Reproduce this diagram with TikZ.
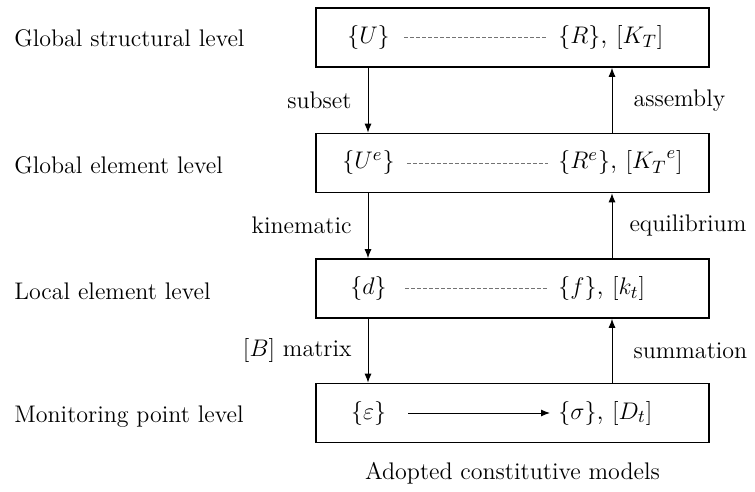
\documentclass[tikz,border=0pt]{standalone}
\usetikzlibrary{arrows.meta,positioning}

\tikzset{
  levelbox/.style={draw,line width=0.8pt,minimum width=196.5pt,minimum height=29.5pt,inner sep=0pt},
  levelname/.style={anchor=west,inner sep=0pt},
  qty/.style={inner sep=0pt,font=\fontsize{13}{15}\selectfont},
  link/.style={draw=black!55,dashed,dash pattern=on 2pt off 1pt,line width=0.4pt},
  flow/.style={-{Latex[length=4.5pt,width=3.5pt]},line width=0.5pt},
  steplabel/.style={inner sep=0pt}
}

\begin{document}
\begin{tikzpicture}[x=0.5pt,y=-0.5pt,font=\fontsize{12}{14}\selectfont]
  \useasboundingbox (0,0) rectangle (755,492);

  % x positions of the down and up flows
  \coordinate (dn) at (368,0);
  \coordinate (up) at (612,0);

  % the four levels
  \node[levelbox] (b1) at (512.5,37.5) {};
  \node[levelbox] (b2) at (512.5,163) {};
  \node[levelbox] (b3) at (512.5,288.5) {};
  \node[levelbox] (b4) at (512.5,413) {};

  \node[levelname] (n1) at (14,38)  {Global structural level};
  \node[levelname] (n2) at (14,165) {Global element level};
  \node[levelname] (n3) at (14,291) {Local element level};
  \node[levelname] (n4) at (14,417) {Monitoring point level};

  % quantities in each box
  \node[qty] (u1) at (368.5,37.5) {$\{U\}$};
  \node[qty,anchor=west] (r1) at (558,37.5) {$\{R\}$, $[K_T]$};
  \node[qty] (u2) at (368.5,163) {$\{U^e\}$};
  \node[qty,anchor=west] (r2) at (558,163) {$\{R^e\}$, $[{K_T}^e]$};
  \node[qty] (u3) at (368.5,288.5) {$\{d\}$};
  \node[qty,anchor=west] (r3) at (558,288.5) {$\{f\}$, $[k_t]$};
  \node[qty] (u4) at (368.5,413) {$\{\varepsilon\}$};
  \node[qty,anchor=west] (r4) at (558,413) {$\{\sigma\}$, $[D_t]$};

  \draw[link,shorten <=7pt,shorten >=5pt] (u1) -- (r1);
  \draw[link,shorten <=6pt,shorten >=5pt] (u2) -- (r2);
  \draw[link,shorten <=9pt,shorten >=5pt] (u3) -- (r3);
  \draw[flow,shorten <=11pt,shorten >=4pt] (u4) -- (r4);

  % down: subset, kinematic, [B] matrix
  \draw[flow] (b1.south -| dn) -- node[steplabel,left=8pt] {subset} (b2.north -| dn);
  \draw[flow] (b2.south -| dn) -- node[steplabel,left=8pt] {kinematic} (b3.north -| dn);
  \draw[flow] (b3.south -| dn) -- node[steplabel,left=8pt] {$[B]$ matrix} (b4.north -| dn);

  % up: summation, equilibrium, assembly
  \draw[flow] (b4.north -| up) -- node[steplabel,right=10.5pt] {summation} (b3.south -| up);
  \draw[flow] (b3.north -| up) -- node[steplabel,right=8.5pt] {equilibrium} (b2.south -| up);
  \draw[flow] (b2.north -| up) -- node[steplabel,right=10.5pt] {assembly} (b1.south -| up);

  \node[steplabel] (cm) at (512.5,473) {Adopted constitutive models};
\end{tikzpicture}
\end{document}
